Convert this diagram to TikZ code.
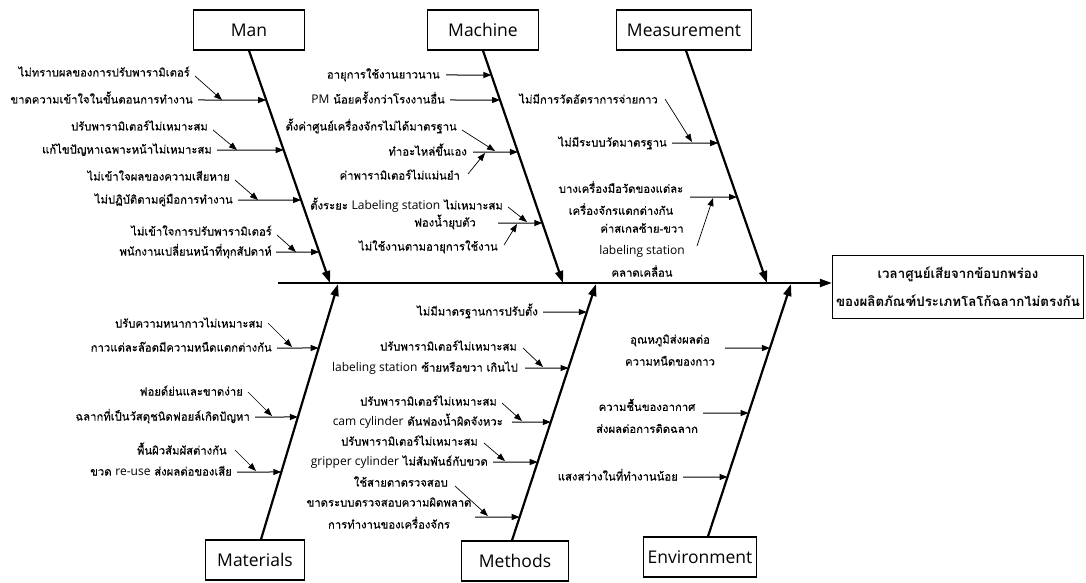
\documentclass[tikz,border=0pt]{standalone}
\usepackage{fontspec}
\setmainfont{Open Sans}
\newfontfamily\thaifont[Script=Thai,FakeBold=0.3]{Loma}
\newfontfamily\thaihead[Script=Thai]{Loma}
\newfontfamily\engfont{Open Sans}
\newcommand\engtxt[1]{{\engfont\fontsize{12}{13}\selectfont #1}}
\usetikzlibrary{arrows.meta,calc}
\tikzset{
  catbox/.style={draw, line width=1.3pt, minimum height=40pt, inner sep=2pt, font=\fontsize{17.5}{21}\selectfont},
  bone/.style={line width=2.2pt, -{Triangle[length=12pt,width=8pt]}},
  cause/.style={line width=1pt, -{Triangle[length=8pt,width=6pt]}},
  sub/.style={line width=0.7pt, -{Triangle[length=8pt,width=6pt]}},
  lbl/.style={font=\thaifont\fontsize{11.3}{13}\selectfont, inner sep=0pt, text height=8pt, text depth=3pt, anchor=east},
  blk/.style={font=\thaifont\fontsize{11.3}{22}\selectfont, inner sep=0pt, align=center},
}
\begin{document}
\begin{tikzpicture}[x=1pt,y=-1pt]
\useasboundingbox (0,0) rectangle (1086,583);

% category boxes
\node[catbox, minimum width=111pt] (man) at (249,30) {Man};
\node[catbox, minimum width=111pt] (machine) at (483,30) {Machine};
\node[catbox, minimum width=135pt] (measure) at (684,30) {Measurement};
\node[catbox, minimum width=99pt] (materials) at (255,560) {Materials};
\node[catbox, minimum width=107pt] (methods) at (515,561) {Methods};
\node[catbox, minimum width=113pt] (environ) at (700,557) {Environment};

% effect
\node[draw, line width=1.3pt, minimum width=251pt, minimum height=63pt, inner sep=0pt,
      align=center, font=\thaihead\bfseries\fontsize{13.3}{28}\selectfont] (effect) at (958,287)
  {เวลาศูนย์เสียจากข้อบกพร่อง\\ของผลิตภัณฑ์ประเภทโลโก้ฉลากไม่ตรงกัน};

% spine
\coordinate (spL) at (278,283);
\draw[bone] (spL) -- (effect.west |- spL);

% bone ends on the spine
\coordinate (manE) at (330,283);
\coordinate (macE) at (563,283);
\coordinate (meaE) at (767,283);
\coordinate (matE) at (338,284);
\coordinate (metE) at (596,284);
\coordinate (envE) at (791,284);
\draw[bone] (man.south) -- (manE);
\draw[bone] (machine.south) -- (macE);
\draw[bone] ([xshift=2pt]measure.south) -- (meaE);
\draw[bone] ([xshift=6pt]materials.north) -- (matE);
\draw[bone] ([xshift=-3pt]methods.north) -- (metE);
\draw[bone] ([xshift=8pt]environ.north) -- (envE);

% ---------- Man ----------
\node[lbl] (m1s) at (190,74) {ไม่ทราบผลของการปรับพารามิเตอร์};
\node[lbl] (m1) at (193,101) {ขาดความเข้าใจในขั้นตอนการทำงาน};
\node[lbl] (m2s) at (208,128) {ปรับพารามิเตอร์ไม่เหมาะสม};
\node[lbl] (m2) at (212,151) {แก้ไขปัญหาเฉพาะหน้าไม่เหมาะสม};
\node[lbl] (m3s) at (230,178) {ไม่เข้าใจผลของความเสียหาย};
\node[lbl] (m3) at (233,201) {ไม่ปฏิบัติตามคู่มือการทำงาน};
\node[lbl] (m4s) at (272,233) {ไม่เข้าใจการปรับพารามิเตอร์};
\node[lbl] (m4) at (272,253) {พนักงานเปลี่ยนหน้าที่ทุกสัปดาห์};
\coordinate (m1a) at (198,100); \coordinate (m2a) at (217,150);
\coordinate (m3a) at (238,200); \coordinate (m4a) at (276,252);
\coordinate (m1t) at (intersection cs: first line={(man.south)--(manE)}, second line={(m1a)--(0,100)});
\coordinate (m2t) at (intersection cs: first line={(man.south)--(manE)}, second line={(m2a)--(0,150)});
\coordinate (m3t) at (intersection cs: first line={(man.south)--(manE)}, second line={(m3a)--(0,200)});
\coordinate (m4t) at (intersection cs: first line={(man.south)--(manE)}, second line={(m4a)--(0,252)});
\draw[cause] (m1a) -- (m1t);
\draw[cause] (m2a) -- (m2t);
\draw[cause] (m3a) -- (m3t);
\draw[cause] (m4a) -- (m4t);
\coordinate (m1sa) at (195,76);  \coordinate (m1st) at (222,100);
\coordinate (m2sa) at (213,130); \coordinate (m2st) at (237,150);
\coordinate (m3sa) at (235,180); \coordinate (m3st) at (258,200);
\coordinate (m4sa) at (277,235); \coordinate (m4st) at (296,252);
\draw[sub] (m1sa) -- (m1st);
\draw[sub] (m2sa) -- (m2st);
\draw[sub] (m3sa) -- (m3st);
\draw[sub] (m4sa) -- (m4st);

% ---------- Machine ----------
\node[lbl] (c1) at (440,76) {อายุการใช้งานยาวนาน};
\node[lbl] (c2) at (445,101) {\engtxt{PM} น้อยครั้งกว่าโรงงานอื่น};
\node[lbl] (c3s) at (457,128) {ตั้งค่าศูนย์เครื่องจักรไม่ได้มาตรฐาน};
\node[lbl] (c3) at (467,153) {ทำอะไหล่ขึ้นเอง};
\node[lbl] (c3u) at (460,177) {ค่าพารามิเตอร์ไม่แม่นยำ};
\node[lbl] (c4s) at (503,207) {ตั้งระยะ \engtxt{Labeling station} ไม่เหมาะสม};
\node[lbl] (c4) at (476,224) {ฟองน้ำยุบตัว};
\node[lbl] (c4u) at (498,248) {ไม่ใช้งานตามอายุการใช้งาน};
\coordinate (c1a) at (446,75); \coordinate (c2a) at (450,100);
\coordinate (c3a) at (473,152); \coordinate (c4a) at (498,223);
\coordinate (c1t) at (intersection cs: first line={(machine.south)--(macE)}, second line={(c1a)--(0,75)});
\coordinate (c2t) at (intersection cs: first line={(machine.south)--(macE)}, second line={(c2a)--(0,100)});
\coordinate (c3t) at (intersection cs: first line={(machine.south)--(macE)}, second line={(c3a)--(0,152)});
\coordinate (c4t) at (intersection cs: first line={(machine.south)--(macE)}, second line={(c4a)--(0,223)});
\draw[cause] (c1a) -- (c1t);
\draw[cause] (c2a) -- (c2t);
\draw[cause] (c3a) -- (c3t);
\draw[cause] (c4a) -- (c4t);
\coordinate (c3sa) at (462,130); \coordinate (c3st) at (495,151);
\coordinate (c3ua) at (468,174); \coordinate (c3ut) at (485,153);
\coordinate (c4sa) at (508,207); \coordinate (c4st) at (527,222);
\coordinate (c4ua) at (504,245); \coordinate (c4ut) at (517,224);
\draw[sub] (c3sa) -- (c3st);
\draw[sub] (c3ua) -- (c3ut);
\draw[sub] (c4sa) -- (c4st);
\draw[sub] (c4ua) -- (c4ut);

% ---------- Measurement ----------
\node[lbl] (d1s) at (658,101) {ไม่มีการวัดอัตราการจ่ายกาว};
\node[lbl] (d1) at (667,144) {ไม่มีระบบวัดมาตรฐาน};
\node[blk] (d2) at (621,198) {บางเครื่องมือวัดของแต่ละ\\เครื่องจักรแตกต่างกัน};
\node[blk] (d2u) at (642,250) {ค่าสเกลซ้าย-ขวา\\\engtxt{labeling station}\\คลาดเคลื่อน};
\coordinate (d1a) at (672,143); \coordinate (d2a) at (690,197);
\coordinate (d1t) at (intersection cs: first line={([xshift=2pt]measure.south)--(meaE)}, second line={(d1a)--(0,143)});
\coordinate (d2t) at (intersection cs: first line={([xshift=2pt]measure.south)--(meaE)}, second line={(d2a)--(0,197)});
\draw[cause] (d1a) -- (d1t);
\draw[cause] (d2a) -- (d2t);
\coordinate (d1sa) at (665,99);  \coordinate (d1st) at (692,142);
\coordinate (d2ua) at (697,246); \coordinate (d2ut) at (713,198);
\draw[sub] (d1sa) -- (d1st);
\draw[sub] (d2ua) -- (d2ut);

% ---------- Materials ----------
\node[lbl] (t1s) at (263,325) {ปรับความหนากาวไม่เหมาะสม};
\node[lbl] (t1) at (272,349) {กาวแต่ละล๊อตมีความหนืดแตกต่างกัน};
\node[lbl] (t2s) at (243,393) {ฟอยด์ย่นและขาดง่าย};
\node[lbl] (t2) at (250,418) {ฉลากที่เป็นวัสดุชนิดฟอยล์เกิดปัญหา};
\node[lbl] (t3s) at (227,452) {พื้นผิวสัมผัสต่างกัน};
\node[lbl] (t3) at (232,473) {ขวด \engtxt{re-use} ส่งผลต่อของเสีย};
\coordinate (t1a) at (277,348); \coordinate (t2a) at (255,417); \coordinate (t3a) at (237,472);
\coordinate (t1t) at (intersection cs: first line={([xshift=6pt]materials.north)--(matE)}, second line={(t1a)--(0,348)});
\coordinate (t2t) at (intersection cs: first line={([xshift=6pt]materials.north)--(matE)}, second line={(t2a)--(0,417)});
\coordinate (t3t) at (intersection cs: first line={([xshift=6pt]materials.north)--(matE)}, second line={(t3a)--(0,472)});
\draw[cause] (t1a) -- (t1t);
\draw[cause] (t2a) -- (t2t);
\draw[cause] (t3a) -- (t3t);
\coordinate (t1sa) at (268,323); \coordinate (t1st) at (292,347);
\coordinate (t2sa) at (248,392); \coordinate (t2st) at (272,416);
\coordinate (t3sa) at (235,450); \coordinate (t3st) at (256,471);
\draw[sub] (t1sa) -- (t1st);
\draw[sub] (t2sa) -- (t2st);
\draw[sub] (t3sa) -- (t3st);

% ---------- Methods ----------
\node[lbl] (h1) at (538,313) {ไม่มีมาตรฐานการปรับตั้ง};
\node[lbl] (h2s) at (517,348) {ปรับพารามิเตอร์ไม่เหมาะสม};
\node[lbl] (h2) at (518,369) {\engtxt{labeling station} ซ้ายหรือขวา เกินไป};
\node[lbl] (h3s) at (497,403) {ปรับพารามิเตอร์ไม่เหมาะสม};
\node[lbl] (h3) at (503,423) {\engtxt{cam cylinder} ดันฟองน้ำผิดจังหวะ};
\node[lbl] (h4s) at (478,443) {ปรับพารามิเตอร์ไม่เหมาะสม};
\node[lbl] (h4) at (488,463) {\engtxt{gripper cylinder} ไม่สัมพันธ์กับขวด};
\node[lbl] (h5s) at (448,484) {ใช้สายตาตรวจสอบ};
\node[blk] (h5) at (389,513) {ขาดระบบตรวจสอบความผิดพลาด\\การทำงานของเครื่องจักร};
\coordinate (h1a) at (543,312); \coordinate (h2a) at (525,368); \coordinate (h3a) at (512,422);
\coordinate (h4a) at (493,462); \coordinate (h5a) at (475,517);
\coordinate (h1t) at (intersection cs: first line={([xshift=-3pt]methods.north)--(metE)}, second line={(h1a)--(0,312)});
\coordinate (h2t) at (intersection cs: first line={([xshift=-3pt]methods.north)--(metE)}, second line={(h2a)--(0,368)});
\coordinate (h3t) at (intersection cs: first line={([xshift=-3pt]methods.north)--(metE)}, second line={(h3a)--(0,422)});
\coordinate (h4t) at (intersection cs: first line={([xshift=-3pt]methods.north)--(metE)}, second line={(h4a)--(0,462)});
\coordinate (h5t) at (intersection cs: first line={([xshift=-3pt]methods.north)--(metE)}, second line={(h5a)--(0,517)});
\draw[cause] (h1a) -- (h1t);
\draw[cause] (h2a) -- (h2t);
\draw[cause] (h3a) -- (h3t);
\draw[cause] (h4a) -- (h4t);
\draw[cause] (h5a) -- (h5t);
\coordinate (h2sa) at (523,348); \coordinate (h2st) at (543,367);
\coordinate (h3sa) at (502,403); \coordinate (h3st) at (522,421);
\coordinate (h4sa) at (484,443); \coordinate (h4st) at (505,461);
\coordinate (h5sa) at (455,486); \coordinate (h5st) at (488,516);
\draw[sub] (h2sa) -- (h2st);
\draw[sub] (h3sa) -- (h3st);
\draw[sub] (h4sa) -- (h4st);
\draw[sub] (h5sa) -- (h5st);

% ---------- Environment ----------
\node[blk] (e1) at (670,350) {อุณหภูมิส่งผลต่อ\\ความหนืดของกาว};
\node[blk] (e2) at (647,416) {ความชื้นของอากาศ\\ส่งผลต่อการติดฉลาก};
\node[lbl] (e3) at (678,478) {แสงสว่างในที่ทำงานน้อย};
\coordinate (e1a) at (725,348); \coordinate (e2a) at (703,413); \coordinate (e3a) at (683,477);
\coordinate (e1t) at (intersection cs: first line={([xshift=8pt]environ.north)--(envE)}, second line={(e1a)--(0,348)});
\coordinate (e2t) at (intersection cs: first line={([xshift=8pt]environ.north)--(envE)}, second line={(e2a)--(0,413)});
\coordinate (e3t) at (intersection cs: first line={([xshift=8pt]environ.north)--(envE)}, second line={(e3a)--(0,477)});
\draw[cause] (e1a) -- (e1t);
\draw[cause] (e2a) -- (e2t);
\draw[cause] (e3a) -- (e3t);
\end{tikzpicture}
\end{document}
